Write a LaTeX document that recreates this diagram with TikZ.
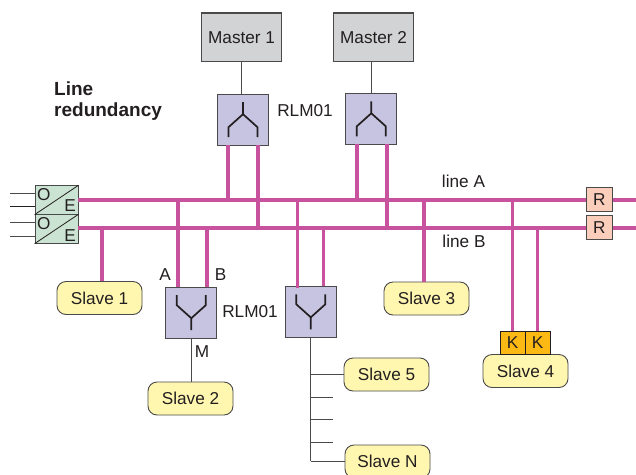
\documentclass[tikz,border=0pt]{standalone}
\usepackage{fontspec}
\setmainfont{Liberation Sans}
\definecolor{bus}{HTML}{C9529F}
\definecolor{lilac}{HTML}{C6C4E0}
\definecolor{greyb}{HTML}{D2D3D4}
\definecolor{slavey}{HTML}{FFF6B0}
\definecolor{oeg}{HTML}{CBE3D2}
\definecolor{rbox}{HTML}{FBCEBB}
\definecolor{kbox}{HTML}{FDB913}
\definecolor{ink}{HTML}{231F20}
\definecolor{edge}{HTML}{4A4A4A}
\tikzset{
  txt/.style={font=\fontsize{17.2}{19}\selectfont,text=ink,inner sep=0pt},
  master/.style={txt,draw=edge,line width=1.1pt,fill=greyb,minimum width=80pt,minimum height=48.5pt},
  coupler/.style={draw=edge,line width=1.1pt,fill=lilac,minimum width=51pt,minimum height=51pt,inner sep=0pt},
  slavebox/.style={txt,draw=edge,line width=0.9pt,fill=slavey,rounded corners=9pt,minimum width=85pt,minimum height=33pt},
  oebox/.style={draw=edge,line width=0.9pt,fill=oeg,minimum width=43pt,minimum height=28.5pt,inner sep=0pt},
  term/.style={txt,draw=edge,line width=0.9pt,fill=rbox,minimum width=26pt,minimum height=24.5pt},
  kcon/.style={txt,draw=ink,line width=0.8pt,fill=kbox,minimum width=25pt,minimum height=23pt},
  busline/.style={draw=bus,line width=4pt},
  drop/.style={draw=bus,line width=3.6pt},
  wire/.style={draw=edge,line width=1pt},
  sym/.style={draw=ink,line width=1.7pt},
  pics/fork/.style={code={
    \draw[sym,line join=miter] (0,-17.5) -- (0,-5.5) -- (-14.5,7.5) -- (-14.5,17.5);
    \draw[sym,line join=miter] (0,-5.5) -- (14.5,7.5) -- (14.5,17.5);
  }}
}
\begin{document}
\begin{tikzpicture}[x=1pt,y=-1pt]
\useasboundingbox (0,0) rectangle (636,474);
\clip (0,0) rectangle (636,474);
\fill[white] (0,0) rectangle (636,474);

% nodes
\node[master] (m1) at (241.6,37.2) {Master 1};
\node[master] (m2) at (373.6,37.2) {Master 2};
\node[coupler] (c1) at (243,119.7) {};
\node[coupler] (c2) at (371.3,118.8) {};
\node[coupler] (c3) at (191.3,312.7) {};
\node[coupler] (c4) at (310.8,311.8) {};
\node[oebox] (oe1) at (56.5,200) {};
\node[oebox] (oe2) at (56.5,229) {};
\node[term] (r1) at (599.3,199.5) {R};
\node[term] (r2) at (599.3,227.5) {R};
\node[slavebox] (s1) at (99.5,298) {Slave 1};
\node[slavebox] (s2) at (190.5,398.5) {Slave 2};
\node[slavebox] (s3) at (426.5,298.5) {Slave 3};
\node[slavebox] (s4) at (525.5,371) {Slave 4};
\node[slavebox] (s5) at (386.5,374.5) {Slave 5};
\node[slavebox] (sn) at (387.5,461.5) {Slave N};
\node[kcon] (k1) at (512.5,342.5) {K};
\node[kcon] (k2) at (537.5,342.5) {K};

% free ends
\coordinate (ai1) at (10,193);
\coordinate (ai2) at (10,206);
\coordinate (ai3) at (10,222);
\coordinate (ai4) at (10,236);
\coordinate (enda) at (636,200);
\coordinate (endb) at (636,228);
\coordinate (busa) at (78,200);
\coordinate (busb) at (78,228);

% bus lines
\draw[busline] (oe1.east |- busa) -- (r1.west |- busa);
\draw[busline] (oe2.east |- busb) -- (r2.west |- busb);
\draw[busline] (r1.east |- enda) -- (enda);
\draw[busline] (r2.east |- endb) -- (endb);

% drops
\coordinate (d1) at (228,145);
\coordinate (d2) at (258,145);
\coordinate (d3) at (357,144);
\coordinate (d4) at (387,144);
\coordinate (d5) at (178,287);
\coordinate (d6) at (207,287);
\coordinate (d7) at (297.5,288);
\coordinate (d8) at (323.5,286);
\coordinate (d9) at (102,281);
\coordinate (d10) at (424,282);
\draw[drop] (d1) -- (d1 |- busa);
\draw[drop] (d2) -- (d2 |- busb);
\draw[drop] (d3) -- (d3 |- busa);
\draw[drop] (d4) -- (d4 |- busb);
\draw[drop] (d5) -- (d5 |- busa);
\draw[drop] (d6) -- (d6 |- busb);
\draw[drop] (d7) -- (d7 |- busa);
\draw[drop] (d8) -- (d8 |- busb);
\draw[drop] (d9) -- (d9 |- busb);
\draw[drop] (d10) -- (d10 |- busa);
\draw[drop] (k1.north) -- (k1.north |- busa);
\draw[drop] (k2.north) -- (k2.north |- busb);

% thin wires
\draw[wire] (m1.south) -- (m1.south |- c1.north);
\draw[wire] (m2.south -| c2.north) -- (c2.north);
\draw[wire] (c3.south) -- (c3.south |- s2.north);
\coordinate (tail) at (310,461);
\draw[wire] (c4.south) -- (c4.south |- tail);
\draw[wire] (c4.south |- s5.west) -- (s5.west);
\coordinate (b1) at (333,397);
\coordinate (b2) at (333,419);
\coordinate (b3) at (333,442);
\draw[wire] (c4.south |- b1) -- (b1);
\draw[wire] (c4.south |- b2) -- (b2);
\draw[wire] (c4.south |- b3) -- (b3);
\draw[wire] (c4.south |- sn.west) -- (sn.west);
\draw[wire] (ai1) -- (oe1.west |- ai1);
\draw[wire,draw=ink] (ai2) -- (oe1.west |- ai2);
\draw[wire] (ai3) -- (oe2.west |- ai3);
\draw[wire] (ai4) -- (oe2.west |- ai4);

% fork symbols
\pic at (c1.center) {fork};
\pic at (c2.center) {fork};
\pic[yscale=-1] at (c3.center) {fork};
\pic[yscale=-1] at (c4.center) {fork};

% O/E contents
\draw[draw=ink,line width=0.8pt] (oe1.south west) -- (oe1.north east);
\draw[draw=ink,line width=0.8pt] (oe2.south west) -- (oe2.north east);
\node[txt] (o1) at (43.7,194.3) {O};
\node[txt] (e1) at (70,206) {E};
\node[txt] (o2) at (43.7,223.5) {O};
\node[txt] (e2) at (70,235.3) {E};

% labels
\node[txt,font=\fontsize{19}{21}\selectfont\bfseries,align=left,anchor=north west] (title) at (54,82) {Line\\redundancy};
\node[txt] (l1) at (305,110.5) {RLM01};
\node[txt] (l2) at (250,311.5) {RLM01};
\node[txt] (la) at (463.5,181.5) {line A};
\node[txt] (lb) at (464,241.5) {line B};
\node[txt] (ta) at (165,275) {A};
\node[txt] (tb) at (220.5,275) {B};
\node[txt] (tm) at (202,351.5) {M};
\end{tikzpicture}
\end{document}
